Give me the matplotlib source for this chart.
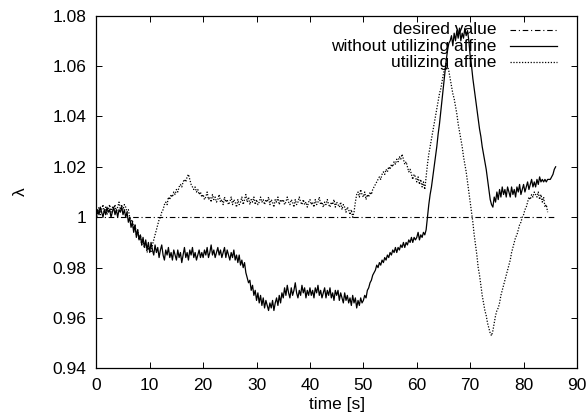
import numpy as np
import matplotlib
matplotlib.use("Agg")
import matplotlib.pyplot as plt

plt.rcParams['font.family'] = ['Liberation Sans', 'DejaVu Sans']

# lambda without utilizing affine, one sample every 0.25 s from 0 to 86 s
t_without = np.arange(0, 86.01, 0.25)
lam_without = [
    1.000, 1.003, 1.001, 1.004, 1.002, 1.000, 1.003, 1.001, 1.004, 1.002,
    1.003, 1.000, 1.002, 1.004, 1.001, 1.003, 1.000, 1.003, 1.002, 1.004,
    1.001, 1.003, 1.000, 1.002, 0.998, 1.000, 0.996, 0.998, 0.994, 0.997,
    0.992, 0.995, 0.991, 0.993, 0.989, 0.992, 0.988, 0.991, 0.987, 0.990,
    0.986, 0.990, 0.987, 0.985, 0.989, 0.986, 0.988, 0.984, 0.987, 0.989,
    0.985, 0.983, 0.987, 0.985, 0.988, 0.984, 0.986, 0.983, 0.987, 0.985,
    0.983, 0.987, 0.984, 0.986, 0.982, 0.985, 0.988, 0.984, 0.986, 0.983,
    0.987, 0.985, 0.988, 0.984, 0.986, 0.983, 0.985, 0.987, 0.984, 0.986,
    0.984, 0.987, 0.985, 0.988, 0.984, 0.986, 0.989, 0.985, 0.987, 0.984,
    0.986, 0.988, 0.985, 0.987, 0.984, 0.986, 0.988, 0.984, 0.987, 0.985,
    0.983, 0.986, 0.984, 0.987, 0.983, 0.985, 0.982, 0.985, 0.981, 0.983,
    0.980, 0.982, 0.978, 0.976, 0.974, 0.975, 0.971, 0.973, 0.969, 0.971,
    0.967, 0.970, 0.966, 0.969, 0.965, 0.968, 0.964, 0.967, 0.965, 0.963,
    0.966, 0.964, 0.967, 0.963, 0.966, 0.968, 0.965, 0.969, 0.966, 0.970,
    0.968, 0.972, 0.969, 0.973, 0.970, 0.968, 0.972, 0.969, 0.971, 0.974,
    0.970, 0.968, 0.971, 0.969, 0.973, 0.970, 0.972, 0.968, 0.971, 0.969,
    0.972, 0.969, 0.971, 0.968, 0.972, 0.970, 0.973, 0.969, 0.971, 0.968,
    0.970, 0.972, 0.968, 0.971, 0.969, 0.972, 0.968, 0.970, 0.967, 0.971,
    0.969, 0.971, 0.967, 0.970, 0.968, 0.966, 0.970, 0.967, 0.969, 0.966,
    0.968, 0.965, 0.969, 0.966, 0.968, 0.964, 0.967, 0.965, 0.968, 0.966,
    0.967, 0.969, 0.968, 0.971, 0.972, 0.974, 0.975, 0.977, 0.978, 0.979,
    0.981, 0.980, 0.982, 0.981, 0.983, 0.982, 0.984, 0.983, 0.985, 0.984,
    0.986, 0.985, 0.987, 0.986, 0.988, 0.986, 0.988, 0.987, 0.989, 0.988,
    0.990, 0.988, 0.990, 0.989, 0.991, 0.990, 0.992, 0.990, 0.992, 0.991,
    0.992, 0.994, 0.991, 0.993, 0.992, 0.994, 0.993, 0.995, 1.000, 1.005,
    1.009, 1.012, 1.016, 1.020, 1.024, 1.028, 1.033, 1.037, 1.042, 1.047,
    1.052, 1.057, 1.062, 1.066, 1.069, 1.070, 1.072, 1.068, 1.073, 1.070,
    1.074, 1.071, 1.075, 1.070, 1.073, 1.071, 1.075, 1.072, 1.074, 1.070,
    1.064, 1.060, 1.055, 1.051, 1.047, 1.043, 1.039, 1.035, 1.032, 1.028,
    1.025, 1.022, 1.019, 1.015, 1.011, 1.007, 1.005, 1.004, 1.008, 1.006,
    1.010, 1.007, 1.011, 1.008, 1.012, 1.009, 1.011, 1.008, 1.012, 1.010,
    1.008, 1.012, 1.009, 1.011, 1.008, 1.012, 1.010, 1.013, 1.009, 1.011,
    1.013, 1.010, 1.012, 1.014, 1.011, 1.013, 1.015, 1.012, 1.014, 1.012,
    1.015, 1.013, 1.016, 1.014, 1.015, 1.014, 1.015, 1.014, 1.015, 1.015,
    1.015, 1.016, 1.017, 1.019, 1.020,
]

# lambda utilizing affine, one sample every 0.25 s from 0 to 84.5 s
t_with = np.arange(0, 84.51, 0.25)
lam_with = [
    0.999, 1.002, 1.004, 1.001, 1.003, 1.005, 1.002, 1.004, 1.001, 1.003,
    1.005, 1.002, 1.004, 1.003, 1.005, 1.002, 1.004, 1.006, 1.003, 1.005,
    1.003, 1.005, 1.004, 1.002, 1.003, 1.000, 0.998, 0.999, 0.995, 0.997,
    0.993, 0.995, 0.991, 0.993, 0.989, 0.991, 0.988, 0.990, 0.986, 0.988,
    0.987, 0.986, 0.989, 0.991, 0.993, 0.995, 0.997, 0.999, 1.000, 1.002,
    1.003, 1.005, 1.006, 1.005, 1.008, 1.007, 1.009, 1.008, 1.010, 1.009,
    1.011, 1.010, 1.012, 1.013, 1.012, 1.014, 1.015, 1.014, 1.016, 1.017,
    1.015, 1.013, 1.012, 1.011, 1.012, 1.010, 1.011, 1.009, 1.010, 1.008,
    1.009, 1.007, 1.008, 1.010, 1.007, 1.008, 1.006, 1.009, 1.007, 1.008,
    1.006, 1.007, 1.009, 1.006, 1.007, 1.005, 1.008, 1.006, 1.007, 1.005,
    1.006, 1.008, 1.005, 1.007, 1.006, 1.004, 1.007, 1.005, 1.006, 1.008,
    1.005, 1.007, 1.009, 1.006, 1.008, 1.005, 1.007, 1.006, 1.008, 1.005,
    1.007, 1.005, 1.006, 1.008, 1.006, 1.007, 1.005, 1.007, 1.006, 1.008,
    1.005, 1.007, 1.006, 1.004, 1.007, 1.006, 1.008, 1.005, 1.007, 1.006,
    1.007, 1.005, 1.006, 1.008, 1.006, 1.005, 1.007, 1.006, 1.004, 1.007,
    1.005, 1.006, 1.008, 1.006, 1.005, 1.007, 1.005, 1.006, 1.004, 1.006,
    1.007, 1.005, 1.006, 1.004, 1.007, 1.005, 1.006, 1.008, 1.005, 1.006,
    1.004, 1.006, 1.005, 1.007, 1.005, 1.004, 1.006, 1.005, 1.007, 1.004,
    1.006, 1.005, 1.004, 1.006, 1.003, 1.005, 1.004, 1.002, 1.004, 1.003,
    1.001, 1.003, 1.000, 1.002, 1.006, 1.009, 1.010, 1.008, 1.011, 1.009,
    1.008, 1.010, 1.007, 1.009, 1.008, 1.010, 1.009, 1.011, 1.012, 1.013,
    1.014, 1.015, 1.016, 1.015, 1.017, 1.018, 1.017, 1.019, 1.018, 1.020,
    1.019, 1.021, 1.020, 1.022, 1.021, 1.023, 1.022, 1.024, 1.023, 1.025,
    1.023, 1.021, 1.022, 1.020, 1.018, 1.019, 1.017, 1.015, 1.017, 1.016,
    1.014, 1.016, 1.013, 1.015, 1.012, 1.014, 1.011, 1.016, 1.021, 1.025,
    1.028, 1.031, 1.034, 1.037, 1.040, 1.043, 1.046, 1.049, 1.051, 1.054,
    1.057, 1.059, 1.061, 1.060, 1.058, 1.055, 1.052, 1.049, 1.047, 1.044,
    1.041, 1.037, 1.034, 1.031, 1.028, 1.024, 1.021, 1.018, 1.014, 1.010,
    1.006, 1.002, 0.998, 0.993, 0.989, 0.985, 0.980, 0.977, 0.973, 0.969,
    0.966, 0.963, 0.961, 0.958, 0.956, 0.954, 0.953, 0.955, 0.958, 0.961,
    0.963, 0.964, 0.966, 0.969, 0.971, 0.973, 0.975, 0.977, 0.979, 0.981,
    0.983, 0.986, 0.988, 0.990, 0.992, 0.993, 0.995, 0.997, 0.998, 1.000,
    1.001, 1.003, 1.004, 1.006, 1.008, 1.007, 1.009, 1.008, 1.010, 1.009,
    1.008, 1.010, 1.007, 1.009, 1.006, 1.008, 1.004, 1.005, 1.002,
]

t_desired = [0, 86]
lam_desired = [1.0, 1.0]

labels = ['desired value', 'without utilizing affine', 'utilizing affine']

fig = plt.figure(figsize=(5.88, 4.16), dpi=100)
ax = fig.add_axes([0.1638, 0.1142, 0.8175, 0.8485])

l_des, = ax.plot(t_desired, lam_desired, color='black', lw=0.8,
                 dashes=(5, 2.5, 1, 2.5))
l_wo, = ax.plot(t_without, lam_without, color='black', lw=0.9)
l_w, = ax.plot(t_with, lam_with, color='black', lw=0.9, dashes=(1, 1.3))

ax.set_xlim(0, 90)
ax.set_ylim(0.94, 1.08)
ax.set_xticks(np.arange(0, 91, 10))
ax.set_yticks([0.94, 0.96, 0.98, 1.0, 1.02, 1.04, 1.06, 1.08])
ax.set_yticklabels(['0.94', '0.96', '0.98', '1', '1.02', '1.04', '1.06', '1.08'])
ax.tick_params(direction='in', length=4.5, width=0.7, top=True, right=True,
               labelsize=12.5, pad=7)
for s in ax.spines.values():
    s.set_linewidth(0.9)

ax.set_xlabel('time [s]', fontsize=12.5, labelpad=3)
ax.set_ylabel('λ', fontsize=12.5, labelpad=18)

# gnuplot-style key: right-justified text, sample line to the right
key_styles = [dict(lw=0.8, dashes=(5, 2.5, 1, 2.5)),
              dict(lw=0.9),
              dict(lw=0.9, dashes=(1, 1.3))]
rows_y = [0.960, 0.913, 0.867]
for lab, st, yy in zip(labels, key_styles, rows_y):
    ax.text(0.833, yy, lab, transform=ax.transAxes, ha='right', va='center',
            fontsize=12.5)
    ax.plot([0.861, 0.958], [yy, yy], transform=ax.transAxes, color='black', **st)

fig.savefig('out.png', dpi=100)
